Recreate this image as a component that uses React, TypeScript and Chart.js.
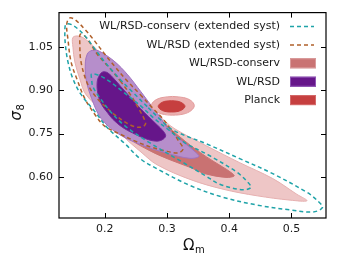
import React, { useEffect, useRef } from 'react';
import { Chart, registerables } from 'chart.js';

Chart.register(...registerables);

// ---------- axes ----------
const xTicks = [0.2, 0.3, 0.4, 0.5];
const xTickLabels = ['0.2', '0.3', '0.4', '0.5'];
const yTicks = [0.6, 0.75, 0.9, 1.05];
const yTickLabels = ['0.60', '0.75', '0.90', '1.05'];
const xMin = 0.1266;
const xMax = 0.5556;
const yMin = 0.457;
const yMax = 1.17;

// ---------- legend ----------
const legendLabels = [
  'WL/RSD-conserv (extended syst)',
  'WL/RSD (extended syst)',
  'WL/RSD-conserv',
  'WL/RSD',
  'Planck',
];

// ---------- contours (Omega_m, sigma_8) ----------
type P = [number, number];

// WL/RSD-conserv (extended syst), 95% and 68%
const conservExt95: P[] = [
  [0.270, 0.840], [0.289, 0.800], [0.310, 0.762], [0.364, 0.714], [0.417, 0.663],
  [0.470, 0.611], [0.525, 0.546], [0.541, 0.519], [0.550, 0.494], [0.535, 0.478],
  [0.498, 0.485], [0.445, 0.502], [0.390, 0.529], [0.337, 0.570], [0.284, 0.628],
  [0.257, 0.663], [0.233, 0.714], [0.205, 0.769], [0.184, 0.827], [0.162, 0.886],
  [0.149, 0.940], [0.141, 0.999], [0.137, 1.056], [0.136, 1.101], [0.138, 1.130],
  [0.149, 1.126], [0.168, 1.090], [0.184, 1.044], [0.200, 0.999], [0.221, 0.947],
  [0.244, 0.896], [0.270, 0.840],
];
const conservExt68: P[] = [
  [0.257, 0.848], [0.281, 0.800], [0.305, 0.759], [0.329, 0.718], [0.369, 0.673],
  [0.413, 0.615], [0.430, 0.581], [0.435, 0.563], [0.422, 0.555], [0.385, 0.574],
  [0.361, 0.605], [0.321, 0.656], [0.268, 0.724], [0.233, 0.776], [0.209, 0.827],
  [0.192, 0.875], [0.181, 0.913], [0.179, 0.940], [0.179, 0.957], [0.192, 0.951],
  [0.2085, 0.930], [0.229, 0.896], [0.257, 0.848],
];

// WL/RSD (extended syst), 95% and 68%
const wlrsdExt95: P[] = [
  [0.257, 0.886], [0.276, 0.841], [0.294, 0.800], [0.308, 0.759], [0.319, 0.724],
  [0.326, 0.697], [0.318, 0.683], [0.297, 0.690], [0.273, 0.704], [0.249, 0.724],
  [0.225, 0.748], [0.200, 0.776], [0.184, 0.817], [0.168, 0.872], [0.157, 0.930],
  [0.146, 0.999], [0.141, 1.077], [0.139, 1.129], [0.1434, 1.151], [0.152, 1.146],
  [0.168, 1.112], [0.184, 1.071], [0.200, 1.026], [0.217, 0.981], [0.236, 0.933],
  [0.257, 0.886],
];
const wlrsdExt68: P[] = [
  [0.225, 0.933], [0.241, 0.886], [0.2535, 0.841], [0.263, 0.803], [0.2656, 0.783],
  [0.258, 0.772], [0.242, 0.779], [0.217, 0.814], [0.199, 0.848], [0.188, 0.872],
  [0.173, 0.920], [0.162, 0.999], [0.160, 1.067], [0.161, 1.095], [0.170, 1.084],
  [0.189, 1.023], [0.209, 0.975], [0.225, 0.933],
];

// WL/RSD-conserv, 95% and 68%
const conserv95: P[] = [
  [0.265, 0.862], [0.281, 0.827], [0.297, 0.793], [0.313, 0.766], [0.364, 0.707],
  [0.417, 0.649], [0.470, 0.594], [0.509, 0.539], [0.525, 0.517], [0.498, 0.519],
  [0.445, 0.534], [0.390, 0.557], [0.337, 0.591], [0.284, 0.642], [0.260, 0.683],
  [0.228, 0.745], [0.200, 0.820], [0.170, 0.885], [0.160, 0.940], [0.152, 0.999],
  [0.149, 1.050], [0.149, 1.084], [0.160, 1.088], [0.173, 1.071], [0.188, 1.040],
  [0.205, 0.999], [0.225, 0.951], [0.245, 0.903], [0.265, 0.862],
];
const conserv68: P[] = [
  [0.257, 0.875], [0.289, 0.800], [0.329, 0.724], [0.363, 0.670], [0.389, 0.635],
  [0.403, 0.615], [0.408, 0.603], [0.395, 0.598], [0.361, 0.611], [0.337, 0.633],
  [0.305, 0.659], [0.273, 0.690], [0.241, 0.731], [0.212, 0.793], [0.192, 0.879],
  [0.186, 0.964], [0.189, 1.016], [0.209, 0.981], [0.233, 0.930], [0.257, 0.875],
];

// WL/RSD, 95% and 68%
const wlrsd95: P[] = [
  [0.258, 0.896], [0.276, 0.844], [0.289, 0.807], [0.300, 0.772], [0.318, 0.735],
  [0.332, 0.711], [0.345, 0.687], [0.3515, 0.671], [0.337, 0.664], [0.300, 0.682],
  [0.257, 0.712], [0.220, 0.752], [0.194, 0.803], [0.179, 0.872], [0.170, 0.940],
  [0.169, 0.999], [0.172, 1.026], [0.1756, 1.035], [0.184, 1.040], [0.194, 1.033],
  [0.2166, 0.999], [0.237, 0.954], [0.258, 0.896],
];
const wlrsd68: P[] = [
  [0.247, 0.862], [0.257, 0.838], [0.270, 0.810], [0.284, 0.781], [0.294, 0.759],
  [0.298, 0.742], [0.292, 0.728], [0.281, 0.724], [0.262, 0.735], [0.245, 0.752],
  [0.229, 0.771], [0.213, 0.800], [0.204, 0.824], [0.195, 0.851], [0.189, 0.889],
  [0.188, 0.930], [0.192, 0.954], [0.197, 0.964], [0.205, 0.961], [0.215, 0.940],
  [0.226, 0.913], [0.236, 0.889], [0.247, 0.862],
];

// Planck, 95% and 68%
const planck95: P[] = [
  [0.309, 0.879], [0.327, 0.875], [0.339, 0.864], [0.344, 0.847], [0.339, 0.830],
  [0.327, 0.818], [0.309, 0.814], [0.292, 0.818], [0.280, 0.830], [0.275, 0.847],
  [0.280, 0.864], [0.292, 0.875], [0.309, 0.879],
];
const planck68: P[] = [
  [0.3074, 0.864], [0.318, 0.862], [0.326, 0.854], [0.329, 0.845], [0.326, 0.835],
  [0.318, 0.827], [0.3074, 0.825], [0.2966, 0.827], [0.2889, 0.835], [0.286, 0.845],
  [0.2889, 0.854], [0.2966, 0.862], [0.3074, 0.864],
];

// ---------- colours ----------
const cyan = '#1fa3a8';
const brown = '#b0602a';
const conservDark = '#c97272';
const conservLight = '#eec6c6';
const wlrsdDark = '#66168a';
const wlrsdLight = '#b68ecb';
const planckDark = '#c63f3f';
const planckLight = '#ebb0b0';

const toXY = (pts: P[]) => pts.map(([x, y]) => ({ x, y }));

const FONT = '"DejaVu Sans", "Liberation Sans", sans-serif';

const decorPlugin = {
  id: 'decor',
  afterDatasetsDraw(chart: any) {
    const { ctx, chartArea: a, scales } = chart;
    ctx.save();
    // frame
    ctx.strokeStyle = '#000';
    ctx.lineWidth = 1.2;
    ctx.setLineDash([]);
    ctx.strokeRect(a.left, a.top, a.right - a.left, a.bottom - a.top);
    // inward ticks on all sides
    ctx.lineWidth = 1;
    const tl = 5;
    xTicks.forEach((v) => {
      const px = Math.round(scales.x.getPixelForValue(v)) + 0.5;
      ctx.beginPath();
      ctx.moveTo(px, a.bottom);
      ctx.lineTo(px, a.bottom - tl);
      ctx.moveTo(px, a.top);
      ctx.lineTo(px, a.top + tl);
      ctx.stroke();
    });
    yTicks.forEach((v) => {
      const py = Math.round(scales.y.getPixelForValue(v)) + 0.5;
      ctx.beginPath();
      ctx.moveTo(a.left, py);
      ctx.lineTo(a.left + tl, py);
      ctx.moveTo(a.right, py);
      ctx.lineTo(a.right - tl, py);
      ctx.stroke();
    });

    // legend
    const rowY = [26.5, 44.9, 63.3, 81.7, 100.1];
    const textRight = 280;
    const symLeft = 290;
    ctx.font = `11px ${FONT}`;
    ctx.textAlign = 'right';
    ctx.textBaseline = 'middle';
    ctx.fillStyle = '#1a1a1a';
    legendLabels.forEach((t, i) => ctx.fillText(t, textRight, rowY[i]));
    // dashed symbols
    [cyan, brown].forEach((c, i) => {
      ctx.strokeStyle = c;
      ctx.lineWidth = 1.5;
      ctx.setLineDash([4, 3]);
      ctx.beginPath();
      ctx.moveTo(symLeft, rowY[i]);
      ctx.lineTo(symLeft + 24, rowY[i]);
      ctx.stroke();
    });
    ctx.setLineDash([]);
    const boxes = [
      [conservDark, '#d99a9a'],
      [wlrsdDark, '#8f55b5'],
      [planckDark, '#d46a6a'],
    ];
    boxes.forEach(([f, s], j) => {
      const y = rowY[j + 2];
      ctx.fillStyle = f;
      ctx.fillRect(symLeft, y - 5, 26, 10);
      ctx.strokeStyle = s;
      ctx.lineWidth = 1;
      ctx.strokeRect(symLeft + 0.5, y - 4.5, 25, 9);
    });

    // axis titles
    ctx.fillStyle = '#111';
    ctx.textAlign = 'left';
    ctx.textBaseline = 'alphabetic';
    ctx.font = `15px ${FONT}`;
    const ox = 183;
    ctx.fillText('\u03A9', ox, 249.5);
    const wO = ctx.measureText('\u03A9').width;
    ctx.font = `10px ${FONT}`;
    ctx.fillText('m', ox + wO + 0.5, 252.5);

    ctx.save();
    ctx.translate(21, 120.5);
    ctx.rotate(-Math.PI / 2);
    ctx.font = `italic 15px ${FONT}`;
    ctx.fillText('\u03C3', 0, 0);
    const wS = ctx.measureText('\u03C3').width;
    ctx.font = `10px ${FONT}`;
    ctx.fillText('8', wS + 0.5, 2.5);
    ctx.restore();

    ctx.restore();
  },
};

export default function App() {
  const ref = useRef<HTMLCanvasElement | null>(null);

  useEffect(() => {
    if (!ref.current) return;
    const dashed = (pts: P[], color: string) => ({
      data: toXY(pts),
      showLine: true,
      borderColor: color,
      borderWidth: 1.5,
      borderDash: [4, 3],
      fill: false,
      pointRadius: 0,
      tension: 0.35,
    });
    const filled = (pts: P[], bg: string, border: string) => ({
      data: toXY(pts),
      showLine: true,
      backgroundColor: bg,
      borderColor: border,
      borderWidth: 1,
      fill: 'shape',
      pointRadius: 0,
      tension: 0.35,
    });
    const chart = new Chart(ref.current, {
      type: 'scatter',
      data: {
        datasets: [
          dashed(conservExt95, cyan),
          dashed(conservExt68, cyan),
          dashed(wlrsdExt95, brown),
          dashed(wlrsdExt68, brown),
          filled(planck68, planckDark, planckDark),
          filled(planck95, planckLight, '#e39d9d'),
          filled(wlrsd68, wlrsdDark, '#74289a'),
          filled(wlrsd95, wlrsdLight, '#a073c2'),
          filled(conserv68, conservDark, conservDark),
          filled(conserv95, conservLight, '#e6b0b0'),
        ] as any,
      },
      options: {
        animation: false,
        responsive: false,
        layout: { padding: { left: 0, right: 11, top: 10, bottom: 0 } },
        plugins: { legend: { display: false }, tooltip: { enabled: false } },
        scales: {
          x: {
            type: 'linear',
            min: xMin,
            max: xMax,
            afterBuildTicks: (s: any) => {
              s.ticks = xTicks.map((v) => ({ value: v }));
            },
            afterFit: (s: any) => {
              s.height = 46;
            },
            ticks: {
              callback: (_v: any, i: number) => xTickLabels[i],
              font: { family: FONT, size: 11 },
              color: '#1a1a1a',
              padding: 5,
              maxRotation: 0,
              autoSkip: false,
            },
            grid: { display: false, drawTicks: false },
            border: { display: false },
          },
          y: {
            type: 'linear',
            min: yMin,
            max: yMax,
            afterBuildTicks: (s: any) => {
              s.ticks = yTicks.map((v) => ({ value: v }));
            },
            afterFit: (s: any) => {
              s.width = 59;
            },
            ticks: {
              callback: (_v: any, i: number) => yTickLabels[i],
              font: { family: FONT, size: 11 },
              color: '#1a1a1a',
              padding: 6,
              autoSkip: false,
            },
            grid: { display: false, drawTicks: false },
            border: { display: false },
          },
        },
      } as any,
      plugins: [decorPlugin],
    });
    return () => chart.destroy();
  }, []);

  return (
    <div style={{ position: 'absolute', left: 0, top: 0, width: 337, height: 264, background: '#fff' }}>
      <canvas ref={ref} width={337} height={264} style={{ display: 'block' }} />
    </div>
  );
}
